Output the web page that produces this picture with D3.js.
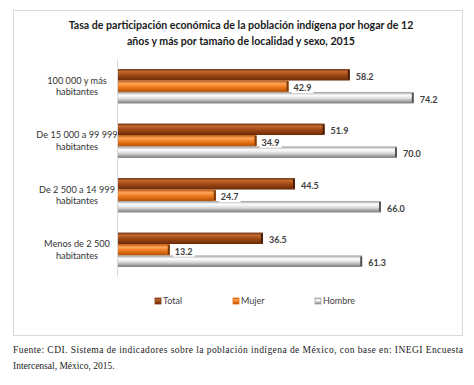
<!DOCTYPE html>
<html><head><meta charset="utf-8">
<script src="https://cdn.jsdelivr.net/npm/d3@7/dist/d3.min.js"></script>
<style>body{margin:0;background:#fff}svg{display:block}</style>
</head><body>
<svg id="c" width="474" height="385"></svg>
<script>
const categories = ["100 000 y más|habitantes", "De 15 000 a 99 999|habitantes", "De 2 500 a 14 999|habitantes", "Menos de 2 500|habitantes"];
const series = ["Total", "Mujer", "Hombre"];
const totalValues = [58.2, 51.9, 44.5, 36.5];
const mujerValues = [42.9, 34.9, 24.7, 13.2];
const hombreValues = [74.2, 70.0, 66.0, 61.3];
const titleLines = ["Tasa de participación económica de la población indígena por hogar de 12", "años y más por tamaño de localidad y sexo, 2015"];
const sourceLines = ["Fuente: CDI. Sistema de indicadores sobre la población indígena de México, con base en: INEGI Encuesta", "Intercensal, México, 2015."];

const valuesBySeries = {Total: totalValues, Mujer: mujerValues, Hombre: hombreValues};
const svg = d3.select("#c");
const sans = "Lato, 'Open Sans', sans-serif";
const serif = "'Liberation Serif', 'DejaVu Serif', serif";

const grads = {
  Total: [["0%","#6E2D0A"],["22%","#C26A30"],["50%","#A44B17"],["100%","#6A2A08"]],
  Mujer: [["0%","#B9560C"],["28%","#FFA65A"],["55%","#F07C1E"],["100%","#B35108"]],
  Hombre: [["0%","#9A9A9A"],["28%","#FFFFFF"],["58%","#DCDCDC"],["100%","#787878"]]
};
const capColor = {Total:"#4A1D05", Mujer:"#7A3A06", Hombre:"#555"};
const legendColor = {Total:"#8B3A12", Mujer:"#E46C0A", Hombre:"#A6A6A6"};
const defs = svg.append("defs");
series.forEach(s => {
  const g = defs.append("linearGradient").attr("id","g"+s).attr("x1",0).attr("x2",0).attr("y1",0).attr("y2",1);
  grads[s].forEach(([o,c]) => g.append("stop").attr("offset",o).attr("stop-color",c));
});

// chart box
svg.append("rect").attr("x",13.5).attr("y",10.5).attr("width",449).attr("height",325)
  .attr("fill","#fff").attr("stroke","#D9D9D9").attr("stroke-width",1);

// title
svg.append("g").selectAll("text").data(titleLines).join("text")
  .attr("x",241).attr("y",(d,i)=>29+i*15.5).attr("text-anchor","middle")
  .attr("font-family",sans).attr("font-weight","bold").attr("font-size",10.6).attr("fill","#1a1a1a")
  .text(d=>d);

const x = d3.scaleLinear().domain([0,80]).range([117,437]);
const y = d3.scaleBand().domain(categories).range([59,277]).paddingInner(0.37).paddingOuter(0.185);
const yi = d3.scaleBand().domain(series).range([0,y.bandwidth()]);

// axis line
svg.append("line").attr("x1",x(0)+0.5).attr("x2",x(0)+0.5).attr("y1",59).attr("y2",277).attr("stroke","#D9D9D9");

// category labels
const cl = svg.append("g").selectAll("text").data(categories).join("text")
  .attr("text-anchor","middle").attr("font-family",sans).attr("font-size",9.2).attr("fill","#333");
cl.each(function(d){
  const t = d3.select(this);
  const lines = d.split("|");
  const cy = y(d)+y.bandwidth()/2;
  lines.forEach((ln,i)=>t.append("tspan").attr("x",77).attr("y",cy-2.5+i*11.5).text(ln));
});

// bars
const rows = [];
series.forEach(s => categories.forEach((c,i) => rows.push({s, c, v: valuesBySeries[s][i]})));
const bars = svg.append("g");
bars.selectAll("rect.bar").data(rows).join("rect").attr("class","bar")
  .attr("x",x(0)+1).attr("y",d=>y(d.c)+yi(d.s)).attr("width",d=>x(d.v)-x(0)-1).attr("height",yi.bandwidth())
  .attr("fill",d=>"url(#g"+d.s+")");
bars.selectAll("rect.cap").data(rows).join("rect").attr("class","cap")
  .attr("x",d=>x(d.v)-2).attr("y",d=>y(d.c)+yi(d.s)+1).attr("width",2).attr("height",yi.bandwidth()-2)
  .attr("fill",d=>capColor[d.s]);

// value labels
const lab = svg.append("g");
rows.forEach(d => {
  const tx = x(d.v)+(d.s==="Mujer"?5:6);
  const ty = y(d.c)+yi(d.s)+yi.bandwidth()/2+5;
  const fmt = d.v.toFixed(1);
  if (d.s==="Mujer") {
    lab.append("rect").attr("x",tx-2).attr("y",ty-8).attr("width",22).attr("height",10).attr("fill","#fff");
  }
  lab.append("text").attr("x",tx).attr("y",ty).attr("font-family",sans).attr("font-weight","bold")
    .attr("font-size",9).attr("fill","#404040").text(fmt);
});

// legend
const legX = {Total:155, Mujer:233, Hombre:315};
const lg = svg.append("g").selectAll("g").data(series).join("g").attr("transform",d=>`translate(${legX[d]},298)`);
lg.append("rect").attr("width",6).attr("height",6).attr("fill",d=>"url(#g"+d+")").attr("stroke",d=>legendColor[d]).attr("stroke-width",0.8);
lg.append("text").attr("x",8).attr("y",6.3).attr("font-family",sans).attr("font-size",9).attr("fill","#404040").text(d=>d);

// source
svg.append("text").attr("x",13).attr("y",353).attr("font-family",serif)
  .attr("font-size",9.5).attr("fill","#222").attr("textLength",450).attr("lengthAdjust","spacing").text(sourceLines[0]);
svg.append("text").attr("x",13).attr("y",369).attr("font-family",serif)
  .attr("font-size",9.5).attr("fill","#222").text(sourceLines[1]);
</script>
</body></html>
